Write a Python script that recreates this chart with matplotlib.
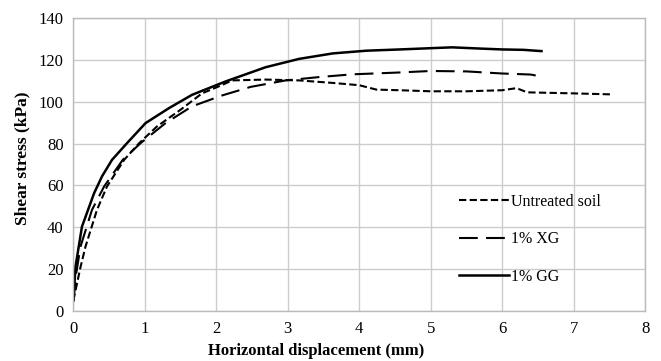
import numpy as np
import matplotlib.pyplot as plt

plt.rcParams['font.family'] = ['Liberation Serif', 'DejaVu Serif']

# data
x_untreated = [0, 0.05, 0.1, 0.17, 0.33, 0.47, 0.71, 0.92, 1.17, 1.5, 1.8, 2.08, 2.22,
               2.69, 3.16, 3.63, 4.0, 4.24, 4.57, 5.0, 5.5, 6.0, 6.2, 6.35, 7.0, 7.55]
y_untreated = [5, 13, 21, 30.8, 48.3, 59.5, 72.2, 80.2, 88.2, 96.2, 104, 108, 110.2,
               110.6, 110.2, 109, 107.9, 105.8, 105.5, 105, 105, 105.5, 106.5, 104.5, 104, 103.5]

x_xg = [0, 0.04, 0.1, 0.26, 0.43, 0.69, 0.94, 1.29, 1.66, 2.08, 2.48, 2.97, 3.44, 3.9,
        4.5, 5.0, 5.5, 6.0, 6.4, 6.55]
y_xg = [5, 18, 30.8, 48.3, 59.5, 72.2, 80.2, 89.8, 97.8, 103, 107.1, 110.2, 111.8, 113.1,
        113.9, 114.7, 114.5, 113.5, 113, 112]

x_gg = [0, 0.03, 0.12, 0.29, 0.40, 0.54, 0.75, 1.01, 1.34, 1.66, 2.13, 2.69, 3.16, 3.63,
        4.1, 4.57, 5.0, 5.3, 5.7, 6.0, 6.3, 6.55]
y_gg = [5, 21.2, 40.3, 56.3, 64.3, 72.2, 80.2, 89.8, 97, 103.3, 109.7, 116.5, 120.5, 123.1,
        124.4, 125, 125.6, 126, 125.4, 125, 124.8, 124.2]

labels = ['Untreated soil', '1% XG', '1% GG']


fig = plt.figure(figsize=(6.61, 3.61), dpi=100)
ax = fig.add_axes([0.111, 0.1385, 0.865, 0.8115])

ax.plot(x_untreated, y_untreated, color='black', lw=1.5, dashes=(3.5, 1.6), label=labels[0])
ax.plot(x_xg, y_xg, color='black', lw=1.5, dashes=(9, 4), label=labels[1])
ax.plot(x_gg, y_gg, color='black', lw=1.8, label=labels[2])

ax.set_xlim(0, 8)
ax.set_ylim(0, 140)
ax.xaxis.set_ticks(np.arange(0, 9, 1))
ax.yaxis.set_ticks(np.arange(0, 141, 20))

ax.grid(True, color='#cccccc', lw=1.0)
ax.set_axisbelow(True)
for s in ax.spines.values():
    s.set_color('#bbbbbb')
    s.set_linewidth(1.0)
ax.tick_params(axis='both', which='both', length=0, labelsize=12, pad=7)

ax.set_xlabel('Horizontal displacement (mm)', fontsize=12, fontweight='bold')
ax.xaxis.set_label_coords(0.425, -0.11)
ax.set_ylabel('Shear stress (kPa)', fontsize=12.5, fontweight='bold')
ax.yaxis.set_label_coords(-0.075, 0.52)

ax.legend(loc='upper left', bbox_to_anchor=(0.65, 0.45), frameon=False, fontsize=11.5,
          handlelength=3.1, handletextpad=0.15, labelspacing=1.35)

plt.savefig('out.png', dpi=100)
plt.close('all')
